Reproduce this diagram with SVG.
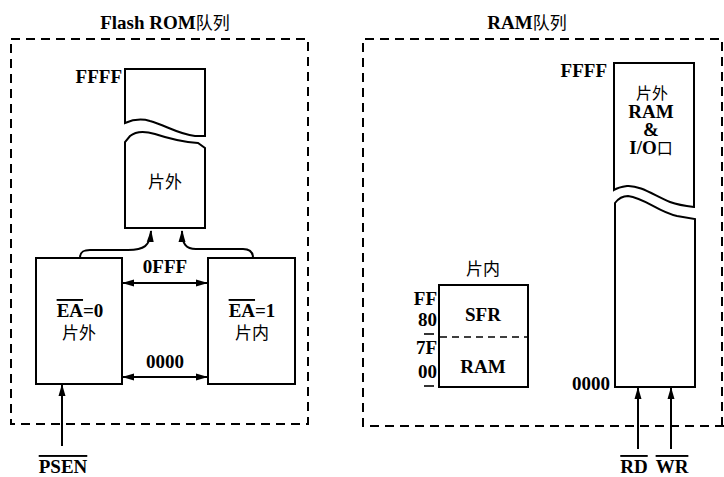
<svg xmlns="http://www.w3.org/2000/svg" width="724" height="477" viewBox="0 0 724 477">
<style>
.bg{fill:#fff}
.frame{fill:none;stroke:#000;stroke-width:2;stroke-dasharray:9 6}
.blk{fill:#fff;stroke:#000;stroke-width:2}
.div{stroke:#000;stroke-width:1.6;stroke-dasharray:7 5}
.tick{stroke:#000;stroke-width:1.6}
.con{fill:none;stroke:#000;stroke-width:2}
.t{font-family:"Liberation Serif","Noto Sans CJK SC",serif;font-size:19px;font-weight:bold;fill:#000}
.c{font-family:"Noto Sans CJK SC","Liberation Serif",sans-serif;font-size:17px;font-weight:normal;fill:#000}
.s{font-size:16px}
.ov{text-decoration:overline}
.m{text-anchor:middle}
.e{text-anchor:end}
</style>
<defs>
<marker id="ah" viewBox="0 0 12 8" refX="11" refY="4" markerWidth="12" markerHeight="8" markerUnits="userSpaceOnUse" orient="auto-start-reverse">
<path d="M0,0.5 L12,4 L0,7.5 Z" fill="#000"/>
</marker>
</defs>
<rect class="bg" x="0" y="0" width="724" height="477"/>

<g id="flash-rom-frame">
<rect class="frame" x="11" y="39" width="297" height="385"/>
<text class="t m" x="165" y="29">Flash ROM<tspan class="c" font-size="18px">队列</tspan></text>
</g>

<g id="ram-frame">
<path class="frame" d="M724,426 H363 V39 H722 V426"/>
<text class="t m" x="527" y="29">RAM<tspan class="c" font-size="18px">队列</tspan></text>
</g>

<g id="ext-rom-top">
<path class="blk" d="M125,69 H205 V136 L195,136 C178,134 165,125 150,121 C140,118 132,120 125,123 Z"/>
<text class="t e" x="122" y="83">FFFF</text>
</g>

<g id="ext-rom-bottom">
<path class="blk" d="M125,228 V142 L130,136 C136,131 145,131 155,134 C170,139 182,142 198,143 L205,148 V228 Z"/>
<text class="c m" x="165" y="188">片外</text>
</g>

<g id="ea0">
<rect class="blk" x="36" y="258" width="86" height="126"/>
<text class="t m" x="80" y="317"><tspan class="ov">EA</tspan>=0</text>
<text class="c m" x="79" y="339">片外</text>
</g>

<g id="ea1">
<rect class="blk" x="208" y="258" width="87" height="126"/>
<text class="t m" x="252" y="317"><tspan class="ov">EA</tspan>=1</text>
<text class="c m" x="252" y="339">片内</text>
</g>

<g id="ext-ram-top">
<path class="blk" d="M614,63 H694 V207 C685,206 678,205 670,202 C655,196 640,185 627,186 C620,187 617,188 614,190 Z"/>
<text class="t e" x="607" y="77">FFFF</text>
<text class="c s m" x="652" y="99">片外</text>
<text class="t m" x="651" y="118">RAM</text>
<text class="t m" x="651" y="136">&amp;</text>
<text class="t m" x="651" y="154">I/O<tspan class="c s">口</tspan></text>
</g>

<g id="ext-ram-bottom">
<path class="blk" d="M615,387 V203 C618,199 622,196 628,196 C645,198 658,212 677,216 L695,219 V387 Z"/>
<text class="t e" x="610" y="390">0000</text>
</g>

<g id="int-ram">
<rect class="blk" x="439" y="285" width="89" height="102"/>
<line class="div" x1="440" y1="337" x2="527" y2="337"/>
<text class="c m" x="483" y="275">片内</text>
<text class="t m" x="483" y="321">SFR</text>
<text class="t m" x="483" y="373">RAM</text>
<text class="t e" x="437" y="305">FF</text>
<text class="t e" x="437" y="326">80</text>
<text class="t e" x="437" y="354">7F</text>
<text class="t e" x="437" y="378">00</text>
<line class="tick" x1="424" y1="334" x2="434" y2="334"/>
<line class="tick" x1="424" y1="386" x2="434" y2="386"/>
</g>

<g id="signals">
<text class="t m" x="63" y="473"><tspan class="ov">PSEN</tspan></text>
<text class="t m" x="634" y="473"><tspan class="ov">RD</tspan></text>
<text class="t m" x="672" y="473"><tspan class="ov">WR</tspan></text>
</g>

<g id="connectors">
<path class="con" marker-end="url(#ah)" d="M80,258 C80,252 83,250 90,250 L128,250 C144,250 150,246 151,231"/>
<path class="con" marker-end="url(#ah)" d="M253,258 C253,252 250,249 243,249 L196,249 C186,249 182,244 182,231"/>
<line class="con" marker-start="url(#ah)" marker-end="url(#ah)" x1="123" y1="283" x2="207" y2="283"/>
<text class="t m" x="165" y="273">0FFF</text>
<line class="con" marker-start="url(#ah)" marker-end="url(#ah)" x1="123" y1="377" x2="207" y2="377"/>
<text class="t m" x="165" y="368">0000</text>
<line class="con" marker-end="url(#ah)" x1="62" y1="446" x2="62" y2="385"/>
<line class="con" marker-end="url(#ah)" x1="638" y1="449" x2="638" y2="388"/>
<line class="con" marker-end="url(#ah)" x1="671" y1="449" x2="671" y2="388"/>
</g>
</svg>
